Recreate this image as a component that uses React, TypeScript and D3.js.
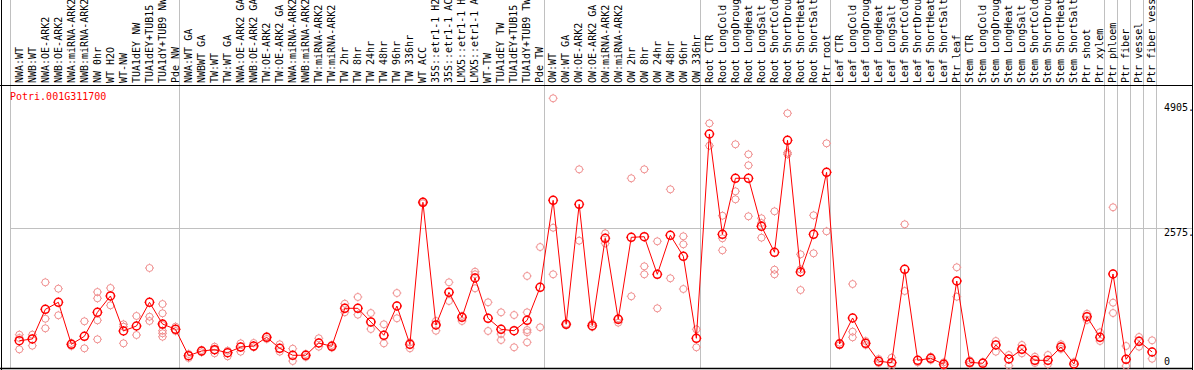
import React from 'react';
import * as d3 from 'd3';

const geneId = 'Potri.001G311700';

const categories = [
  'NWA:WT', 'NWB:WT', 'NWA:OE-ARK2', 'NWB:OE-ARK2', 'NWA:miRNA-ARK2', 'NWB:miRNA-ARK2',
  'NW 0hr', 'WT H2O', 'WT-NW', 'TUA1dEY NW', 'TUA1dEY+TUB15 NW', 'TUA1dY+TUB9 NW', 'Pde NW',
  'NWA:WT GA', 'NWBWT GA', 'TW:WT', 'TW:WT GA', 'NWA:OE-ARK2 GA', 'NWB:OE-ARK2 GA',
  'TW:OE-ARK2', 'TW:OE-ARK2 GA', 'NWA:miRNA-ARK2', 'NWB:miRNA-ARK2', 'TW:miRNA-ARK2',
  'TW:miRNA-ARK2', 'TW 2hr', 'TW 8hr', 'TW 24hr', 'TW 48hr', 'TW 96hr', 'TW 336hr', 'WT ACC',
  '35S::etr1-1 H2O', '35S::etr1-1 ACC', 'LMX5::etr1-1 H2O', 'LMX5::etr1-1 ACC', 'WT-TW',
  'TUA1dEY TW', 'TUA1dEY+TUB15 TW', 'TUA1dY+TUB9 TW', 'Pde TW',
  'OW:WT', 'OW:WT GA', 'OW:OE-ARK2', 'OW:OE-ARK2 GA', 'OW:miRNA-ARK2', 'OW:miRNA-ARK2',
  'OW 2hr', 'OW 8hr', 'OW 24hr', 'OW 48hr', 'OW 96hr', 'OW 336hr',
  'Root CTR', 'Root LongCold', 'Root LongDrought', 'Root LongHeat', 'Root LongSalt',
  'Root ShortCold', 'Root ShortDrought', 'Root ShortHeat', 'Root ShortSalt', 'Ptr root',
  'Leaf CTR', 'Leaf LongCold', 'Leaf LongDrought', 'Leaf LongHeat', 'Leaf LongSalt',
  'Leaf ShortCold', 'Leaf ShortDrought', 'Leaf ShortHeat', 'Leaf ShortSalt', 'Ptr leaf',
  'Stem CTR', 'Stem LongCold', 'Stem LongDrought', 'Stem LongHeat', 'Stem LongSalt',
  'Stem ShortCold', 'Stem ShortDrought', 'Stem ShortHeat', 'Stem ShortSalt', 'Ptr shoot',
  'Ptr xylem', 'Ptr phloem', 'Ptr fiber', 'Ptr vessel', 'Ptr fiber vessel',
];

// group separators: after these many columns
const groupBreaks = [0, 13, 41, 53, 63, 73, 84, 85, 86, 87, 88];

const means = [
  472, 504, 1057, 1188, 405, 554, 1001, 1306, 653, 746, 1188, 783, 684,
  192, 280, 304, 248, 354, 373, 535, 330, 200, 200, 429, 367, 1076, 1076, 821, 573, 1119, 405,
  3053, 765, 1374, 908, 1641, 890, 684, 658, 852, 1468,
  3090, 778, 3016, 752, 2382, 871, 2400, 2411, 1710, 2438, 2046, 517,
  4327, 2456, 3501, 3501, 2605, 2121, 4209, 1753, 2456, 3612,
  410, 895, 423, 88, 62, 1803, 106, 144, 32, 1585,
  69, 50, 392, 131, 311, 106, 106, 354, 37, 919, 535,
  1716, 125, 461, 261,
];

const replicates = [
  [584, 522, 311], [584, 379], [1561, 882, 703], [1442, 946], [429, 373], [834, 330],
  [1380, 1263, 852, 498], [1455, 1132], [778, 733, 423], [933, 578], [1828, 919, 839],
  [1156, 983, 765, 658, 610, 546], [733, 653],
  [224, 149], [298, 256], [360, 298, 237], [285, 181], [423, 267], [429, 349], [554, 504],
  [405, 267], [323, 93], [224, 168], [517, 360], [392, 341], [1162, 1002], [1287, 957],
  [988, 690], [778, 423], [1361, 890], [442, 330], [3064, 3034], [839, 658], [1561, 1212],
  [933, 839], [1759, 1710, 1449], [1188, 653], [1001, 597, 485], [951, 349],
  [1679, 1001, 671, 629, 442], [2219, 722],
  [4993, 2579, 1710], [789, 765], [3668, 2337], [789, 727], [2475, 2288], [890, 808],
  [3501, 1300], [3668, 1859, 1710], [2326, 1076], [3295, 1636], [2419, 2270, 1436], [684, 349],
  [4526, 4109], [2803, 2382, 2158], [4135, 3258, 3109], [3948, 3743, 2792], [2755, 2667, 2393],
  [2885, 1796, 1710], [4713, 3978, 3948], [2083, 1803, 1417], [2811, 2102], [4153, 2512],
  [435, 386], [1529, 640, 535], [466, 392], [131, 56], [155, 0], [2643, 1399], [69],
  [173, 112], [69, 6], [1841, 1292],
  [103, 37], [75], [466, 267], [205, 6], [392, 237], [173, 56], [205, 32], [405, 317], [75],
  [975, 858], [629, 466],
  [2960, 1181, 988], [373, 0], [541, 360], [479, 136],
];

const yTickValues = [4905, 2575, 0];
const yTickLabels = ['4905.', '2575.', '0'];

const MONO = '"DejaVu Sans Mono", "Liberation Mono", monospace';

function Marker({ cx, cy, r, color, sw }: { cx: number; cy: number; r: number; color: string; sw: number }) {
  const t = 1.0;
  return (
    <g stroke={color} strokeWidth={sw} fill="none">
      <circle cx={cx} cy={cy} r={r} />
      <line x1={cx} y1={cy - r} x2={cx} y2={cy - r - t} strokeWidth={1} />
      <line x1={cx} y1={cy + r} x2={cx} y2={cy + r + t} strokeWidth={1} />
      <line x1={cx - r} y1={cy} x2={cx - r - t} y2={cy} strokeWidth={1} />
      <line x1={cx + r} y1={cy} x2={cx + r + t} y2={cy} strokeWidth={1} />
    </g>
  );
}

export default function App() {
  const W = 1194;
  const H = 370;
  const x = d3.scaleBand<number>().domain(d3.range(categories.length)).range([10, 1155.8]);
  const bw = x.bandwidth();
  const y = d3.scaleLinear().domain([0, 4905]).range([366, 103]);
  const px = (i: number) => (x(i) as number) + 9.3;
  const lineGen = d3
    .line<number>()
    .x((_, i) => px(i))
    .y((d) => y(d));
  const sepX = (n: number) => 10 + n * bw;

  return (
    <svg
      width={W}
      height={H}
      style={{ position: 'absolute', left: 0, top: 0, background: '#fff' }}
      fontFamily={MONO}
    >
      <rect x={0} y={0} width={W} height={H} fill="#fff" />
      {groupBreaks.map((n) => (
        <line key={'s' + n} x1={Math.round(sepX(n)) + 0.5} x2={Math.round(sepX(n)) + 0.5} y1={0} y2={368} stroke="#c0c0c0" strokeWidth={1} />
      ))}
      <line x1={10} x2={1192} y1={Math.round(y(2575)) + 0.5} y2={Math.round(y(2575)) + 0.5} stroke="#c0c0c0" strokeWidth={1} />
      {categories.map((c, i) => (
        <text
          key={'c' + i}
          transform={`translate(${(x(i) as number) + 12.6},83) rotate(-90)`}
          fontSize={10}
          fill="#000"
        >
          {c}
        </text>
      ))}
      <line x1={0} x2={1193} y1={85.5} y2={85.5} stroke="#000" strokeWidth={1} />
      <line x1={1.5} x2={1.5} y1={0} y2={370} stroke="#000" strokeWidth={1} />
      <line x1={1192.5} x2={1192.5} y1={0} y2={370} stroke="#000" strokeWidth={1} />
      <line x1={0} x2={1193} y1={368.5} y2={368.5} stroke="#000" strokeWidth={1.5} />
      <text x={10} y={100} fontSize={10} fill="#ff0000">
        {geneId}
      </text>
      {yTickValues.map((v, k) => {
        const yy = Math.min(y(v) + 8, 365);
        return (
          <text key={'t' + k} x={1164} y={yy} fontSize={10} fill="#000">
            {yTickLabels[k]}
          </text>
        );
      })}
      {replicates.map((reps, i) =>
        reps.map((v, j) => <Marker key={`r${i}-${j}`} cx={px(i)} cy={y(v)} r={3.5} color="#f09090" sw={1} />)
      )}
      <path d={lineGen(means) || ''} fill="none" stroke="#ff0000" strokeWidth={1} />
      {means.map((v, i) => (
        <Marker key={'m' + i} cx={px(i)} cy={y(v)} r={4} color="#ff0000" sw={1.5} />
      ))}
    </svg>
  );
}
